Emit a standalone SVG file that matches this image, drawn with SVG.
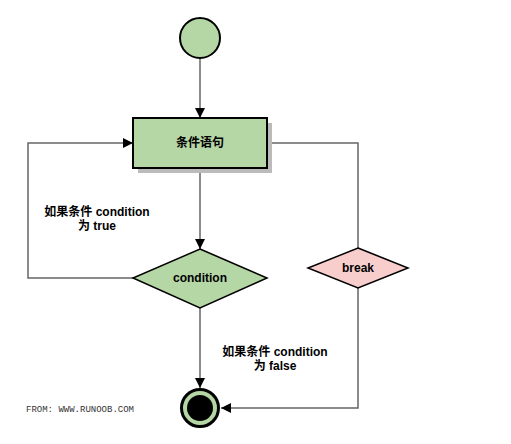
<svg xmlns="http://www.w3.org/2000/svg" width="511" height="444" viewBox="0 0 511 444">
<defs>
<marker id="arr" viewBox="0 0 10 10" refX="10" refY="5" markerWidth="10" markerHeight="10" markerUnits="userSpaceOnUse" orient="auto"><path d="M0,0 L10,5 L0,10 z" fill="#000"/></marker>
<style>
.edge{fill:none;stroke:#666;stroke-width:1.5}
.lbl{font-family:"Liberation Sans","Noto Sans CJK SC",sans-serif;font-size:12px;font-weight:bold;fill:#000;text-anchor:middle}
.green{fill:#b5d6a5;stroke:#000;stroke-width:2}
</style>
</defs>
<rect width="511" height="444" fill="#fff"/>
<g id="edges">
<path class="edge" d="M200,58 V118" marker-end="url(#arr)"/>
<path class="edge" d="M200,168 V249" marker-end="url(#arr)"/>
<path class="edge" d="M133,278 H28 V143 H133" marker-end="url(#arr)"/>
<path class="edge" d="M267,143 H358 V248"/>
<path class="edge" d="M358,288 V408 H221" marker-end="url(#arr)"/>
<path class="edge" d="M200,308 V388" marker-end="url(#arr)"/>
</g>
<g id="start"><circle cx="200" cy="38" r="20" class="green"/></g>
<g id="stmt">
<rect x="138" y="123" width="134" height="50" fill="#bbb"/>
<rect x="133" y="118" width="134" height="50" class="green"/>
<text class="lbl" x="200" y="147">条件语句</text>
</g>
<g id="cond">
<path d="M200,249 L267,278 L200,308 L133,278 z" fill="#b5d6a5" stroke="#000" stroke-width="1.5"/>
<text class="lbl" x="200" y="282">condition</text>
</g>
<g id="brk">
<path d="M358,248 L408,268 L358,288 L308,268 z" fill="#f8cecc" stroke="#000" stroke-width="1.5"/>
<text class="lbl" x="358" y="272">break</text>
</g>
<g id="end">
<circle cx="200" cy="408" r="18.5" fill="#b5d6a5" stroke="#000" stroke-width="3"/>
<circle cx="200" cy="408" r="13" fill="#000"/>
</g>
<g id="labels">
<text class="lbl" x="97" y="216">如果条件 condition</text>
<text class="lbl" x="97" y="230">为 true</text>
<text class="lbl" x="275" y="356">如果条件 condition</text>
<text class="lbl" x="275" y="370">为 false</text>
<text x="26" y="412" font-family="Liberation Mono,monospace" font-size="9" fill="#333">FROM: WWW.RUNOOB.COM</text>
</g>
</svg>
